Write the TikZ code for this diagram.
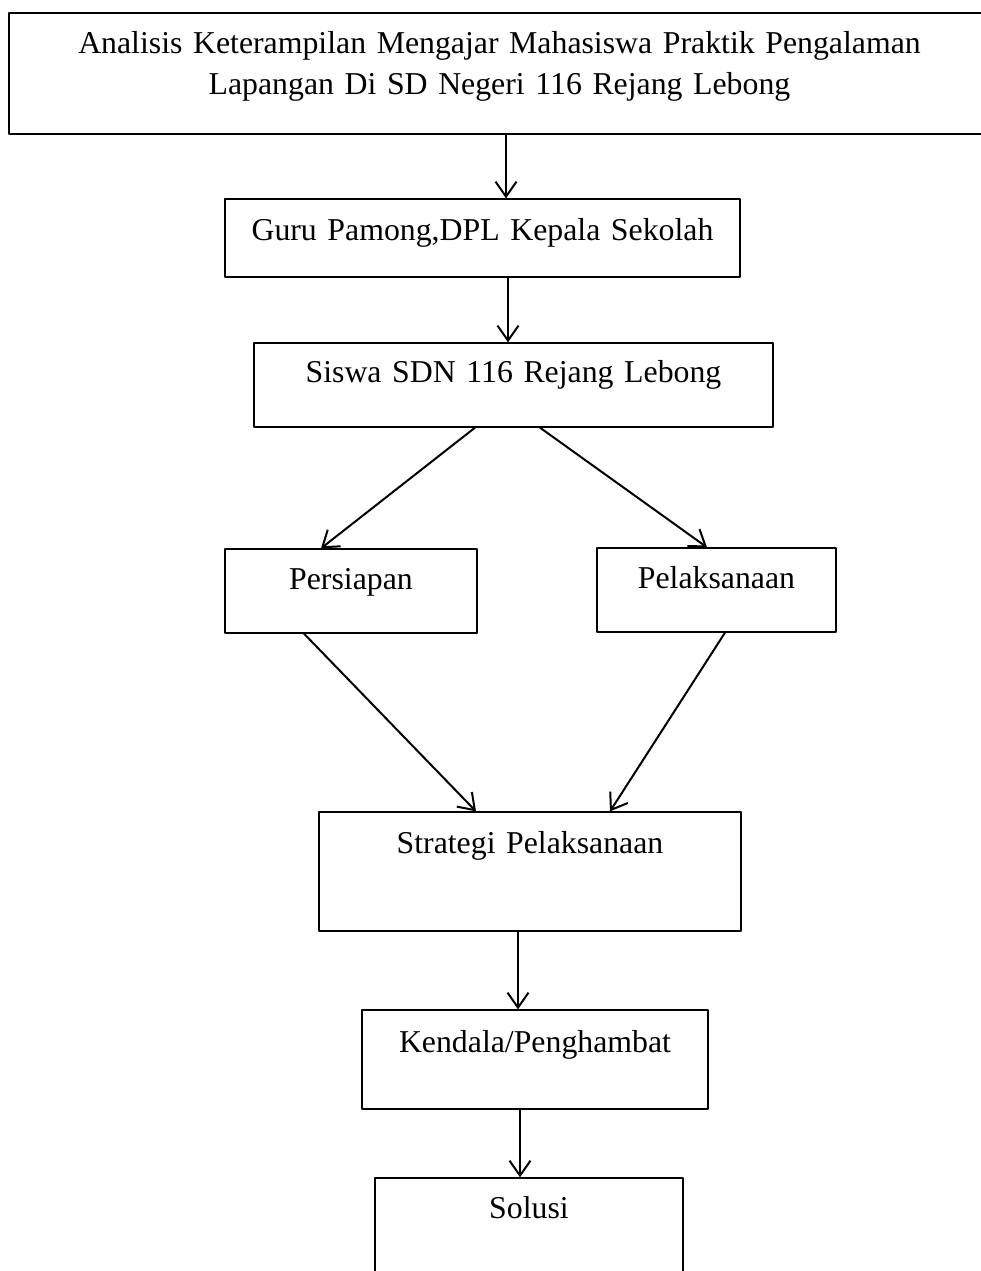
\documentclass[tikz,border=0pt]{standalone}
\usepackage{fontspec}
\setmainfont{Liberation Serif}
\usepackage{pgf,tikz}
\usetikzlibrary{arrows.meta}

\begin{document}
\begin{tikzpicture}[x=0.5pt, y=-0.5pt, line cap=round, line join=round,
    kotak/.style={draw, line width=0.65pt, inner sep=0pt, align=center, anchor=base,
      font=\fontsize{15.9}{20.5}\selectfont},
    panah/.style={->, line width=1pt},
    >={Straight Barb[length=7.5pt,width=10.5pt]}]
    \useasboundingbox (0,0) rectangle (981,1271);
    \clip (0,0) rectangle (981,1271);
    % kotak-kotak
    \node[kotak, text width=490.5pt, text height=20pt, text depth=40.5pt] (judul) at (499.5,53)
      {Analisis Keterampilan Mengajar Mahasiswa Praktik Pengalaman\\Lapangan Di SD Negeri 116 Rejang Lebong};
    \node[kotak, text width=257.5pt, text height=20.5pt, text depth=18.5pt] (guru) at (482.5,240)
      {Guru Pamong,DPL Kepala Sekolah};
    \node[kotak, text width=259.5pt, text height=19.5pt, text depth=22.5pt] (siswa) at (513.5,382)
      {Siswa SDN 116 Rejang Lebong};
    \node[kotak, text width=126pt, text height=20pt, text depth=22pt] (persiapan) at (351,589)
      {Persiapan};
    \node[kotak, text width=119.5pt, text height=20pt, text depth=22pt] (pelaksanaan) at (716.5,588)
      {Pelaksanaan};
    \node[kotak, text width=211pt, text height=20.5pt, text depth=39pt] (strategi) at (530,853)
      {Strategi Pelaksanaan};
    \node[kotak, text width=173pt, text height=21pt, text depth=28.5pt] (kendala) at (535,1052)
      {Kendala/Penghambat};
    \node[kotak, text width=154pt, text height=20pt, text depth=41pt] (solusi) at (529,1218)
      {Solusi};
    % panah
    \draw[panah] (judul.south -| 506,0) -- (guru.north -| 506,0);
    \draw[panah] (guru.south -| 508,0) -- (siswa.north -| 508,0);
    \draw[panah] (siswa.south -| 475,0) -- (persiapan.north -| 321,0);
    \draw[panah] (siswa.south -| 540,0) -- (pelaksanaan.north -| 707,0);
    \draw[panah] (persiapan.south -| 304,0) -- (strategi.north -| 476,0);
    \draw[panah] (pelaksanaan.south -| 725,0) -- (strategi.north -| 610,0);
    \draw[panah] (strategi.south -| 518,0) -- (kendala.north -| 518,0);
    \draw[panah] (kendala.south -| 520,0) -- (solusi.north -| 520,0);
\end{tikzpicture}
\end{document}
